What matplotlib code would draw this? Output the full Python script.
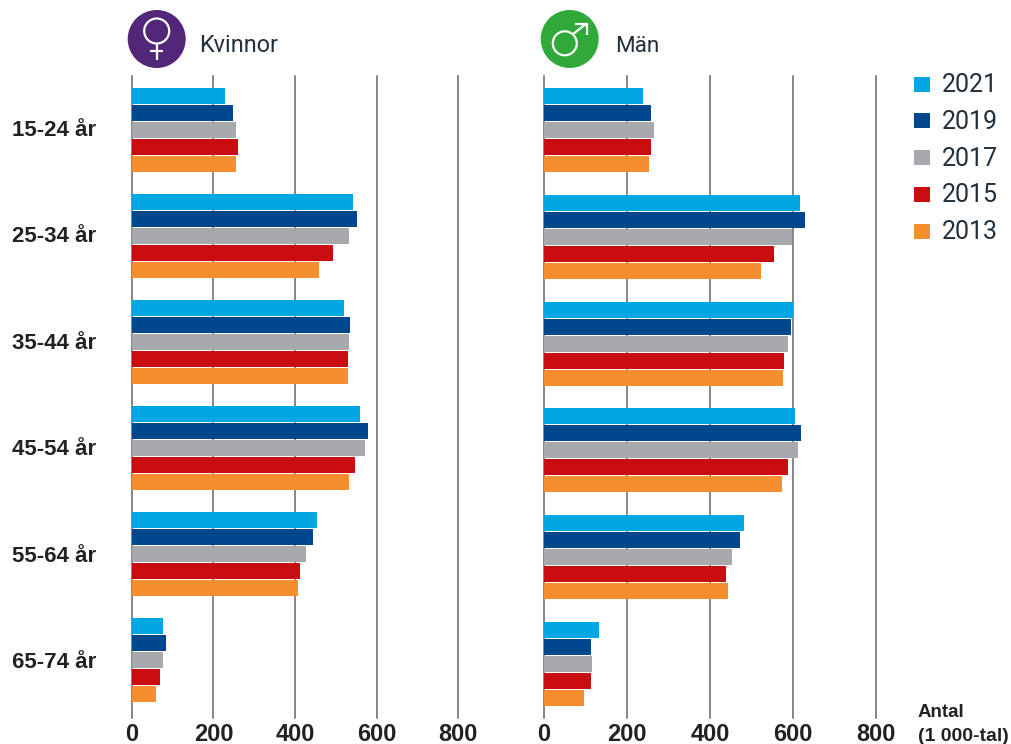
import matplotlib
matplotlib.use("Agg")
import matplotlib.pyplot as plt
from matplotlib.patches import Circle, Rectangle

ages = ["15-24 år", "25-34 år", "35-44 år", "45-54 år", "55-64 år", "65-74 år"]
years = ["2021", "2019", "2017", "2015", "2013"]
colors = ["#00A7E3", "#00468C", "#A7A9AC", "#C90C0F", "#F58E2F"]
ticks = [0, 200, 400, 600, 800]

women = {
    "2021": [228, 542, 520, 560, 454, 76],
    "2019": [248, 552, 535, 579, 444, 83],
    "2017": [255, 532, 532, 572, 427, 76],
    "2015": [260, 493, 530, 547, 412, 69],
    "2013": [255, 459, 530, 532, 407, 59],
}
men = {
    "2021": [239, 617, 600, 606, 483, 133],
    "2019": [258, 629, 596, 620, 473, 113],
    "2017": [265, 597, 587, 611, 454, 116],
    "2015": [258, 555, 578, 587, 439, 113],
    "2013": [253, 523, 577, 574, 444, 96],
}

W, H = 1012, 744
BOLD = "Liberation Sans"
LIGHT = "Roboto"
INK = "#222222"
SOFT = "#22303C"

fig = plt.figure(figsize=(W / 100, H / 100), dpi=100, facecolor="white")


def panel(x0, x1, pitch, data):
    ax = fig.add_axes([x0 / W, 1 - 718 / H, (x1 - x0) / W, (718 - 76) / H])
    ax.set_xlim(0, 800)
    ax.set_ylim((718 - 130) / pitch, (76 - 130) / pitch)
    for s in ax.spines.values():
        s.set_visible(False)
    ax.set_yticks([])
    ax.set_xticks(ticks)
    ax.tick_params(axis="x", length=0, pad=3.5, labelsize=17, labelcolor=INK)
    for lab in ax.get_xticklabels():
        lab.set_fontfamily(BOLD)
        lab.set_fontweight("bold")
    ax.patch.set_alpha(0)
    ax.set_axisbelow(True)
    ax.grid(axis="x", color="#666666", lw=1.1)
    ax.grid(axis="y", visible=False)
    for line in ax.get_xgridlines():
        line.set_clip_on(False)
    step = 17 / pitch
    for i, yr in enumerate(years):
        pos = [g + (i - 2) * step for g in range(len(ages))]
        ax.barh(pos, data[yr], height=16 / pitch, color=colors[i], zorder=3)
    return ax


left = panel(132, 458, 106.0, women)
right = panel(544, 876, 106.8, men)

# overlay in pixel coordinates for labels, header icons, legend and unit note
ov = fig.add_axes([0, 0, 1, 1], zorder=5)
ov.set_xlim(0, W)
ov.set_ylim(H, 0)
ov.axis("off")

for g, age in enumerate(ages):
    ov.text(96, 136 + g * 106.4, age, ha="right", va="baseline", fontsize=16,
            family=BOLD, fontweight="bold", color=INK)

ov.add_patch(Circle((156.7, 39), 29, fc="#522779", ec="none"))
ov.add_patch(Circle((156.7, 31), 12.5, fc="none", ec="white", lw=1.6))
ov.plot([156.7, 156.7], [43.5, 60], color="white", lw=1.6, solid_capstyle="butt")
ov.plot([150.5, 163], [50.7, 50.7], color="white", lw=1.6, solid_capstyle="butt")
ov.text(199, 52, "Kvinnor", fontsize=16.8, family=LIGHT, fontweight="normal",
        color=SOFT, va="baseline", ha="left")

ov.add_patch(Circle((569.7, 39), 29, fc="#30A93A", ec="none"))
ov.add_patch(Circle((564.8, 43.3), 12, fc="none", ec="white", lw=1.6))
ov.plot([572.5, 586.5], [34.5, 23.5], color="white", lw=1.6, solid_capstyle="butt")
ov.plot([575, 587, 587], [23.5, 23.5, 34.5], color="white", lw=1.6,
        solid_capstyle="butt", solid_joinstyle="miter")
ov.text(615, 52, "Män", fontsize=16.2, family=LIGHT, fontweight="normal",
        color=SOFT, va="baseline", ha="left")

for i, yr in enumerate(years):
    yc = 84 + i * 36.75
    ov.add_patch(Rectangle((914, yc - 7.5), 16, 15, fc=colors[i], ec="none"))
    ov.text(942, yc + 8, yr, fontsize=18, family=LIGHT, fontweight="normal",
            color=SOFT, va="baseline", ha="left")

ov.text(918, 717, "Antal", fontsize=13.5, family=BOLD, fontweight="bold",
        color=INK, va="baseline", ha="left")
ov.text(918, 741, "(1 000-tal)", fontsize=14, family=BOLD, fontweight="bold",
        color=INK, va="baseline", ha="left")

fig.savefig("out.png", dpi=100)
